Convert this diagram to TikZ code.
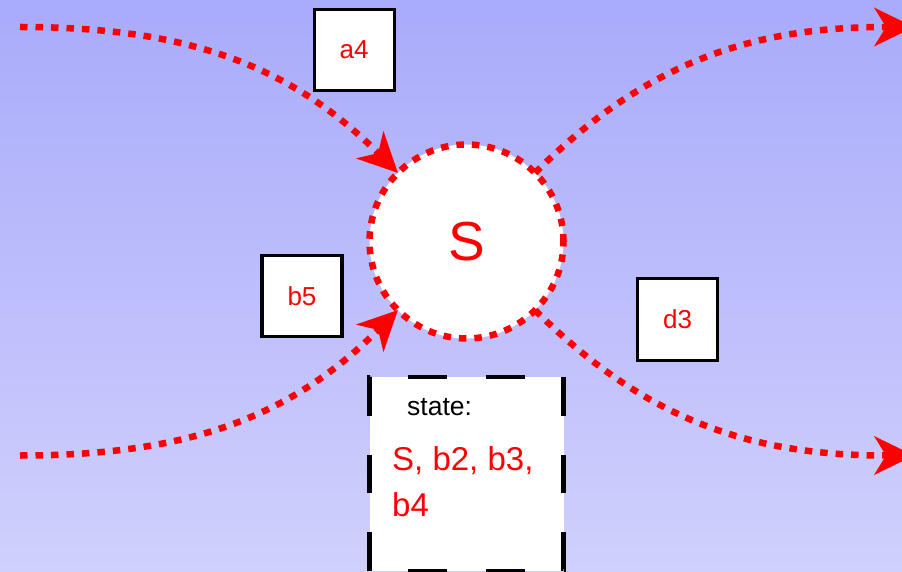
\documentclass[tikz,border=0pt]{standalone}
\usepackage{fontspec}
\setmainfont{Liberation Sans}
\usetikzlibrary{arrows.meta}

\definecolor{skytop}{RGB}{169,171,251}
\definecolor{skybottom}{RGB}{208,208,252}

\tikzset{
  flow/.style={red, line width=6.5pt, dash pattern=on 7.5pt off 8pt,
    -{Stealth[length=40pt,width=39pt,inset=12pt,line width=0pt]}},
  tag/.style={draw=black, line width=3.3pt, fill=white,
    minimum width=80pt, minimum height=81.5pt, inner sep=0pt,
    text=red, font=\fontsize{26}{30}\selectfont},
  hub/.style={circle, draw=red, fill=white, line width=6.5pt,
    dash pattern=on 7.5pt off 8pt, minimum size=194pt,
    inner sep=0pt, outer sep=0pt, text=red, font=\fontsize{55}{60}\selectfont},
  statebox/.style={draw=black, fill=white, line width=4.3pt,
    dash pattern=on 38.8pt off 38.8pt, dash phase=38.8pt,
    minimum size=194pt, inner sep=0pt},
  headtext/.style={anchor=base west, inner sep=0pt, text=black,
    font=\fontsize{26.5}{30}\selectfont},
  listtext/.style={anchor=base west, inner sep=0pt, text=red,
    font=\fontsize{33}{46}\selectfont},
}

\begin{document}
\begin{tikzpicture}[x=1pt,y=1pt]
\useasboundingbox (0,0) rectangle (902,571);
\begin{scope}
\clip (0,0) rectangle (902,571);
\shade[top color=skytop, bottom color=skybottom] (0,0) rectangle (902,571);

% central state and its labels
\node[hub] (S) at (466.5,329.5) {S};
\node[tag] (a4) at (354.2,521) {a4};
\node[tag] (b5) at (302,275) {b5};
\node[tag] (d3) at (677.7,251.5) {d3};

% state listing
\node[statebox] (state) at (466.6,97) {};
\node[headtext] (statehead) at (407,156) {state:};
\node[listtext] (listone) at (392,101) {S, b2, b3,};
\node[listtext] (listtwo) at (392,55) {b4};

% free ends of the transitions
\coordinate (inA) at (20,544);
\coordinate (inB) at (20,115.5);
\coordinate (outA) at (914,544);
\coordinate (outB) at (914,115.5);

% transitions
\draw[flow] (inA) to[out=0,in=135] (S.135);
\draw[flow] (inB) to[out=0,in=225] (S.225);
\draw[flow] (S.45) to[out=45,in=180] (outA);
\draw[flow] (S.-45) to[out=-45,in=180] (outB);
\end{scope}
\end{tikzpicture}
\end{document}
